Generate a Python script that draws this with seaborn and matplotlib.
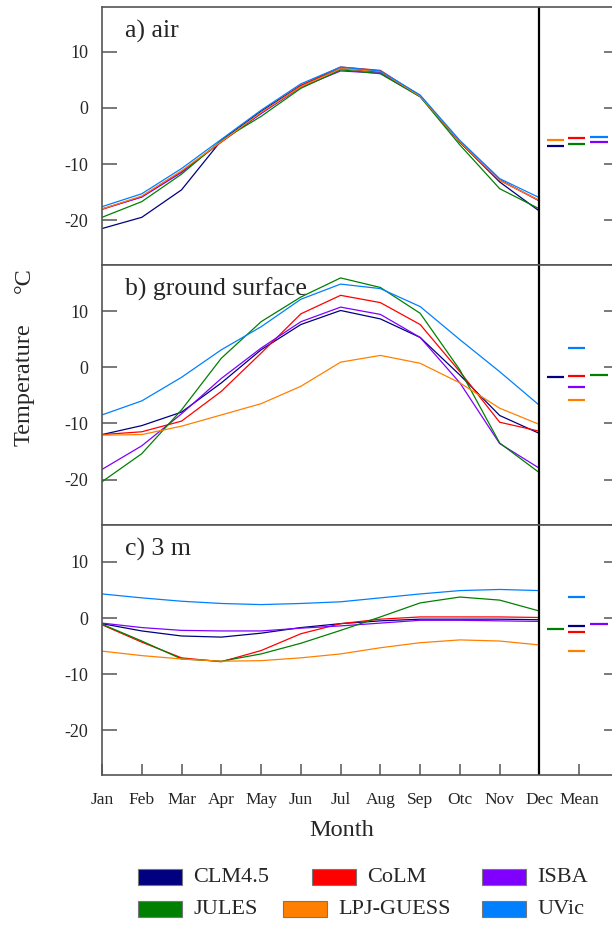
import numpy as np
import pandas as pd
import matplotlib
matplotlib.use("Agg")
import matplotlib.pyplot as plt
from matplotlib.patches import Rectangle
import seaborn as sns

# --- data -------------------------------------------------------------
MONTHS = ["Jan", "Feb", "Mar", "Apr", "May", "Jun", "Jul", "Aug", "Sep",
          "Otc", "Nov", "Dec"]
MODELS = ["CLM4.5", "CoLM", "ISBA", "JULES", "LPJ-GUESS", "UVic"]
COLORS = ["#000080", "#ff0000", "#8000ff", "#008000", "#ff8000", "#0080ff"]

# a) air
air_clm   = [-21.5, -19.5, -14.6, -5.8, -0.6, 4.0, 7.0, 6.4, 2.2, -6.1, -13.2, -18.4]
air_colm  = [-18.1, -15.8, -11.3, -6.1, -0.9, 4.0, 7.3, 6.7, 2.1, -6.1, -12.9, -16.5]
air_isba  = [-18.0, -15.9, -11.5, -6.0, -1.0, 3.7, 6.6, 6.2, 2.0, -6.0, -12.8, -16.6]
air_jules = [-19.5, -16.7, -11.8, -5.8, -1.5, 3.5, 6.8, 6.1, 2.0, -6.6, -14.4, -18.0]
air_lpj   = [-18.0, -15.7, -11.2, -6.0, -0.8, 3.8, 7.0, 6.5, 2.1, -6.0, -12.9, -16.5]
air_uvic  = [-17.6, -15.3, -10.8, -5.6, -0.4, 4.3, 7.3, 6.6, 2.3, -5.8, -12.6, -16.0]
air_mean  = [-6.7, -5.4, -6.1, -6.5, -5.8, -5.2]

# b) ground surface
gs_clm   = [-12.0, -10.4, -8.0, -2.8, 3.1, 7.6, 10.1, 8.6, 5.3, -1.4, -8.6, -11.8]
gs_colm  = [-12.0, -11.5, -9.6, -4.3, 2.5, 9.5, 12.8, 11.5, 7.6, -0.8, -9.8, -11.4]
gs_isba  = [-18.2, -14.0, -8.3, -2.0, 3.4, 8.1, 10.7, 9.4, 5.3, -2.8, -13.6, -18.0]
gs_jules = [-20.4, -15.4, -7.6, 1.6, 8.1, 12.5, 15.9, 14.2, 9.6, -0.5, -13.5, -18.8]
gs_lpj   = [-12.1, -12.0, -10.5, -8.5, -6.5, -3.4, 0.9, 2.1, 0.7, -2.8, -7.3, -10.2]
gs_uvic  = [-8.5, -6.0, -1.8, 3.1, 7.2, 12.1, 14.8, 14.0, 10.8, 4.9, -0.8, -6.8]
gs_mean  = [-1.8, -1.6, -3.6, -1.3, -5.9, 3.5]

# c) 3 m
m3_clm   = [-1.0, -2.3, -3.2, -3.4, -2.7, -1.7, -1.0, -0.5, -0.2, -0.2, -0.2, -0.3]
m3_colm  = [-1.2, -4.3, -7.1, -7.8, -5.8, -2.8, -1.0, -0.2, 0.2, 0.2, 0.2, 0.1]
m3_isba  = [-0.9, -1.7, -2.2, -2.3, -2.3, -1.8, -1.4, -0.9, -0.4, -0.4, -0.5, -0.6]
m3_jules = [-1.1, -4.1, -7.3, -7.7, -6.4, -4.5, -2.2, 0.2, 2.7, 3.75, 3.2, 1.25]
m3_lpj   = [-5.9, -6.7, -7.3, -7.7, -7.6, -7.1, -6.4, -5.3, -4.4, -3.9, -4.1, -4.8]
m3_uvic  = [4.3, 3.6, 3.0, 2.6, 2.4, 2.6, 2.9, 3.6, 4.3, 4.9, 5.1, 4.9]
m3_mean  = [-1.4, -2.4, -1.1, -1.9, -5.9, 3.8]

PANELS = [
    ("a) air", [air_clm, air_colm, air_isba, air_jules, air_lpj, air_uvic], air_mean),
    ("b) ground surface", [gs_clm, gs_colm, gs_isba, gs_jules, gs_lpj, gs_uvic], gs_mean),
    ("c) 3 m", [m3_clm, m3_colm, m3_isba, m3_jules, m3_lpj, m3_uvic], m3_mean),
]

# --- layout ------------------------------------------------------------
W, H = 612, 927
MEAN_COLS = [11.4, 11.93, 12.5]           # sub-columns in the mean strip
MEAN_SLOT = [[0, 1, 2, 1, 0, 2],          # which sub-column each model uses
             [0, 1, 1, 2, 1, 1],
             [1, 1, 2, 0, 1, 1]]
BOXES = [(7, 265), (265, 525), (525, 775)]  # top/bottom pixel of each panel
YLIMS = [(-28.0, 18.0), (-28.1, 18.2), (-28.0, 16.6)]

sns.set_style("ticks")
plt.rcParams["font.family"] = ["Liberation Serif", "DejaVu Serif"]
palette = dict(zip(MODELS, COLORS))

fig = plt.figure(figsize=(W / 100, H / 100), dpi=100)
left, right = 102, 619

for i, (label, series, means) in enumerate(PANELS):
    top, bot = BOXES[i]
    ax = fig.add_axes([left / W, 1 - bot / H, (right - left) / W, (bot - top) / H])

    df = pd.DataFrame({
        "month": np.tile(np.arange(12), len(MODELS)),
        "temp": np.concatenate(series),
        "model": np.repeat(MODELS, 12),
    })
    sns.lineplot(data=df, x="month", y="temp", hue="model", palette=palette,
                 hue_order=MODELS, lw=0.9, legend=False, ax=ax)

    for m, val in enumerate(means):
        xc = MEAN_COLS[MEAN_SLOT[i][m]]
        ax.hlines(val, xc - 0.22, xc + 0.22, color=COLORS[m], lw=1.6)

    ax.axvline(11, color="black", lw=1.6)
    ax.set_xlim(0, 13)
    ax.set_ylim(*YLIMS[i])
    ax.set_yticks([10, 0, -10, -20])
    ax.set_yticklabels(["10", "0", "-10", "-20"], fontsize=13)
    ax.set_xlabel("")
    ax.set_ylabel("")
    ax.tick_params(axis="y", direction="in", length=11, width=1.1,
                   color="#555555", right=True, pad=10)
    if i == 2:
        ax.set_xticks(range(13))
        ax.set_xticklabels(MONTHS + ["Mean"], fontsize=12.5)
        ax.tick_params(axis="x", direction="in", length=8, width=1.1,
                       color="#555555", pad=12)
    else:
        ax.set_xticks([])
    for s in ax.spines.values():
        s.set_color("#555555")
        s.set_linewidth(1.2)

    ax.text(23 / (right - left), 1 - 31 / (bot - top), label,
            transform=ax.transAxes, fontsize=18.5, va="baseline", ha="left")

fig.text(24 / W, 1 - 385 / H, "Temperature", rotation=90, ha="center",
         va="center", fontsize=17.5)
fig.text(24 / W, 1 - 280 / H, "°C", rotation=90, ha="center",
         va="center", fontsize=17.5)
fig.text(342 / W, 1 - 830 / H, "Month", ha="center", va="center", fontsize=17.5)

# legend, laid out like the original
leg = [("CLM4.5", 138, 877), ("CoLM", 312, 877), ("ISBA", 482, 877),
       ("JULES", 138, 909), ("LPJ-GUESS", 283, 909), ("UVic", 482, 909)]
for (name, px, py), col in zip(leg, COLORS):
    fig.add_artist(Rectangle((px / W, 1 - (py + 8) / H), 44 / W, 16 / H,
                             transform=fig.transFigure, facecolor=col,
                             edgecolor="#777777", lw=0.8))
    fig.text((px + 55) / W, 1 - py / H, name, ha="left", va="center",
             fontsize=16)

fig.savefig("out.png", dpi=100)
